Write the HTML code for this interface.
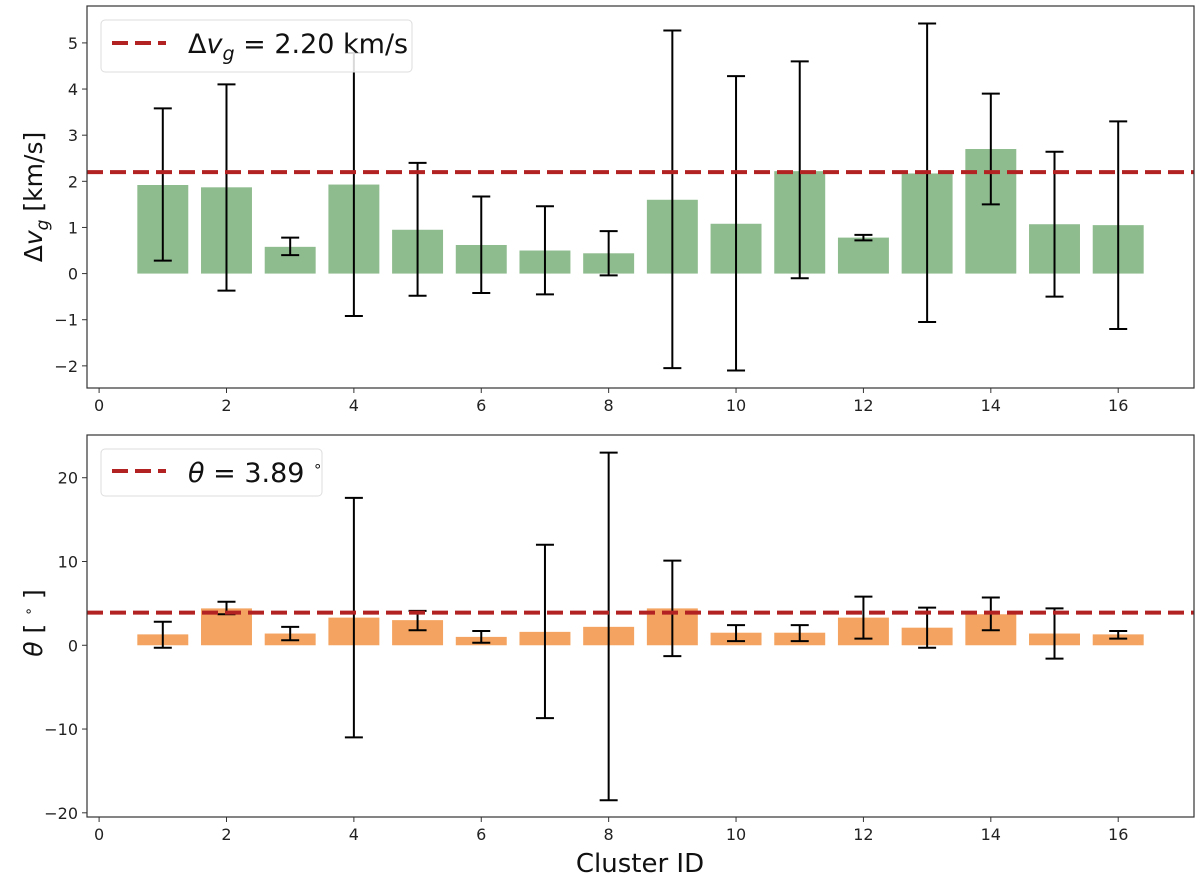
<!DOCTYPE html>
<html><head><meta charset="utf-8"><style>
body{margin:0;background:#fff}
svg{display:block;font-family:"DejaVu Sans","Liberation Sans",sans-serif}
</style></head><body>
<svg id="c" width="1200" height="878"></svg>
<script>
const clusters=[1,2,3,4,5,6,7,8,9,10,11,12,13,14,15,16];
const dv=[1.92,1.87,0.58,1.93,0.95,0.62,0.50,0.44,1.60,1.08,2.22,0.78,2.17,2.70,1.07,1.05];
const dvLo=[0.28,-0.37,0.40,-0.92,-0.48,-0.42,-0.45,-0.04,-2.05,-2.10,-0.10,0.72,-1.05,1.50,-0.50,-1.20];
const dvHi=[3.58,4.10,0.78,4.78,2.40,1.67,1.46,0.92,5.27,4.28,4.60,0.84,5.42,3.90,2.64,3.30];
const th=[1.3,4.4,1.4,3.3,3.0,1.0,1.6,2.2,4.4,1.5,1.5,3.3,2.1,3.7,1.4,1.3];
const thLo=[-0.3,3.7,0.6,-11.0,1.8,0.3,-8.7,-18.5,-1.3,0.5,0.5,0.8,-0.3,1.8,-1.6,0.8];
const thHi=[2.8,5.2,2.2,17.6,4.1,1.7,12.0,23.0,10.1,2.4,2.4,5.8,4.5,5.7,4.4,1.7];
const xTicks=[0,2,4,6,8,10,12,14,16];
const dvTicks=[-2,-1,0,1,2,3,4,5];
const thTicks=[-20,-10,0,10,20];
const dvMean=2.20, thMean=3.89;

const NS="http://www.w3.org/2000/svg";
const svg=document.getElementById('c');
function el(tag,attrs,parent){const e=document.createElementNS(NS,tag);for(const k in attrs)e.setAttribute(k,attrs[k]);(parent||svg).appendChild(e);return e;}
const X0=87,X1=1194,xmin=-0.19,xmax=17.19;
const xs=v=>X0+(v-xmin)/(xmax-xmin)*(X1-X0);

function panel(name,top,bot,ymin,ymax,vals,lo,hi,ticks,color,mean){
  const g=el('g',{});
  
  
  const ys=v=>bot-(v-ymin)/(ymax-ymin)*(bot-top);
  const bw=xs(0.8)-xs(0);
  clusters.forEach((c,i)=>{
    const y0=ys(0),y1=ys(vals[i]);
    const r=el('rect',{x:xs(c)-bw/2,y:Math.min(y0,y1),width:bw,height:Math.abs(y0-y1),fill:color},g);
    
    
  });
  clusters.forEach((c,i)=>{
    const eg=el('g',{stroke:'#000','stroke-width':2},g);
    
    
    const x=xs(c);
    el('line',{x1:x,x2:x,y1:ys(lo[i]),y2:ys(hi[i])},eg);
    el('line',{x1:x-9,x2:x+9,y1:ys(lo[i]),y2:ys(lo[i])},eg);
    el('line',{x1:x-9,x2:x+9,y1:ys(hi[i]),y2:ys(hi[i])},eg);
  });
  const ml=el('line',{x1:X0,x2:X1,y1:ys(mean),y2:ys(mean),stroke:'#b22222','stroke-width':4,'stroke-dasharray':'16 7'},g);
  
  
  const fr=el('rect',{x:X0,y:top,width:X1-X0,height:bot-top,fill:'none',stroke:'#333','stroke-width':1.2},g);
  
  
  ticks.forEach(t=>{
    const y=ys(t);
    el('line',{x1:X0-5,x2:X0,y1:y,y2:y,stroke:'#333'},g);
    const tx=el('text',{x:X0-9,y:y+6,'text-anchor':'end','font-size':16,fill:'#222'},g);
    tx.textContent=(t<0?'\u2212'+(-t):''+t);
    
    
  });
  xTicks.forEach(t=>{
    const x=xs(t);
    el('line',{x1:x,x2:x,y1:bot,y2:bot+5,stroke:'#333'},g);
    const tx=el('text',{x:x,y:bot+23,'text-anchor':'middle','font-size':16,fill:'#222'},g);
    tx.textContent=t;
    
    
  });
  return g;
}
panel('dv',6,388,-2.48,5.8,dv,dvLo,dvHi,dvTicks,'#8fbc8f',dvMean);
panel('theta',435,817,-20.5,25.1,th,thLo,thHi,thTicks,'#f4a460',thMean);
</script>
<svg width="1200" height="878" style="position:absolute;left:0;top:0">
<g>
<rect x="101" y="20" width="311" height="52" rx="4" fill="#fff" fill-opacity="0.85" stroke="#ddd"/>
<line x1="112" y1="43" x2="166" y2="43" stroke="#b22222" stroke-width="4" stroke-dasharray="16 7"/>
<text x="188" y="53" font-family="DejaVu Sans,sans-serif" font-size="27" fill="#111">Δ<tspan font-style="italic">v</tspan><tspan font-style="italic" font-size="19" dy="7">g</tspan><tspan dy="-7"> = 2.20 km/s</tspan></text>
</g>
<g>
<rect x="101" y="449" width="221" height="47" rx="4" fill="#fff" fill-opacity="0.85" stroke="#ddd"/>
<line x1="112" y1="471" x2="166" y2="471" stroke="#b22222" stroke-width="4" stroke-dasharray="16 7"/>
<text x="188" y="482" font-family="DejaVu Sans,sans-serif" font-size="27" fill="#111"><tspan font-style="italic">θ</tspan> = 3.89 <tspan font-size="15" dy="-11">∘</tspan></text>
</g>
<text transform="translate(42,197) rotate(-90)" text-anchor="middle" font-family="DejaVu Sans,sans-serif" font-size="25" fill="#111">Δ<tspan font-style="italic">v</tspan><tspan font-style="italic" font-size="17" dy="6">g</tspan><tspan dy="-6"> [km/s]</tspan></text>
<text transform="translate(42,623) rotate(-90)" text-anchor="middle" font-family="DejaVu Sans,sans-serif" font-size="25" fill="#111"><tspan font-style="italic">θ</tspan> [ <tspan font-size="14" dy="-9">∘</tspan><tspan dy="9"> ]</tspan></text>
<text x="640" y="872" text-anchor="middle" font-family="DejaVu Sans,sans-serif" font-size="26" fill="#111">Cluster ID</text>
</svg>
</body></html>
